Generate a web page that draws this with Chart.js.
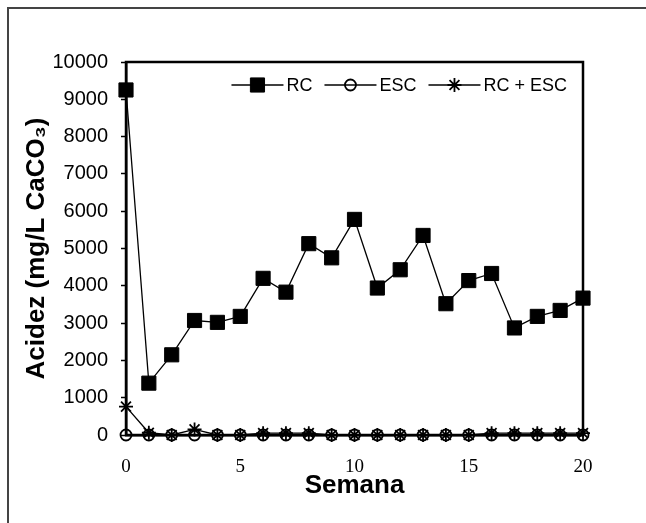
<!DOCTYPE html>
<html>
<head>
<meta charset="utf-8">
<script src="https://cdn.jsdelivr.net/npm/chart.js"></script>
<style>
    html, body { margin: 0; padding: 0; background: #fff; }
    #wrap { position: relative; width: 646px; height: 523px; overflow: hidden; }
    #frame { position: absolute; left: 7px; top: 7px; right: -4px; bottom: -4px;
             border-top: 2px solid #444; border-left: 2px solid #444; }
</style>
</head>
<body>
<div id="wrap">
    <canvas id="myChart" width="646" height="523"></canvas>
    <div id="frame"></div>
</div>
<script>
// Weeks (x axis)
const semanas = [0, 1, 2, 3, 4, 5, 6, 7, 8, 9, 10, 11, 12, 13, 14, 15, 16, 17, 18, 19, 20];

// Acidity, mg/L CaCO3
const rc = [9250, 1390, 2150, 3070, 3020, 3180, 4200, 3830, 5130, 4750, 5780,
            3940, 4430, 5350, 3520, 4140, 4330, 2870, 3180, 3340, 3670];
const esc = [0, 0, 0, 0, 0, 0, 0, 0, 0, 0, 0, 0, 0, 0, 0, 0, 0, 0, 0, 0, 0];
const rcEsc = [760, 60, 0, 150, 0, 0, 50, 50, 50, 0, 0, 0, 0, 0, 0, 0, 50, 50, 50, 50, 50];

const seriesNames = ['RC', 'ESC', 'RC + ESC'];
const xTicks = [0, 5, 10, 15, 20];
const yTicks = [0, 1000, 2000, 3000, 4000, 5000, 6000, 7000, 8000, 9000, 10000];

function toPoints(values) {
    return semanas.map((s, i) => ({ x: s, y: values[i] }));
}

// box around the plot area (top and right sides)
const plotBox = {
    id: 'plotBox',
    beforeDatasetsDraw(chart) {
        const { ctx, chartArea } = chart;
        ctx.save();
        ctx.strokeStyle = '#000';
        ctx.lineWidth = 2.5;
        ctx.strokeRect(chartArea.left, chartArea.top,
            chartArea.right - chartArea.left, chartArea.bottom - chartArea.top);
        ctx.restore();
    }
};

// legend drawn inside the plot, line through marker
const inlineLegend = {
    id: 'inlineLegend',
    afterDraw(chart) {
        const { ctx, chartArea } = chart;
        const symW = 52, gap = 3, itemGap = 12;
        ctx.save();
        ctx.font = '18px "Liberation Sans", Arial, sans-serif';
        const items = chart.data.datasets.map(ds => ({
            ds: ds,
            w: symW + gap + ctx.measureText(ds.label).width
        }));
        const total = items.reduce((a, it) => a + it.w, 0) + itemGap * (items.length - 1);
        let x = chartArea.right - 16 - total;
        const y = chartArea.top + 23;
        items.forEach(it => {
            const ds = it.ds;
            ctx.strokeStyle = '#000';
            ctx.lineWidth = 1.3;
            ctx.beginPath();
            ctx.moveTo(x, y);
            ctx.lineTo(x + symW, y);
            ctx.stroke();
            ctx.fillStyle = ds.pointBackgroundColor;
            ctx.strokeStyle = ds.pointBorderColor;
            ctx.lineWidth = ds.pointBorderWidth;
            Chart.helpers.drawPoint(ctx, {
                pointStyle: ds.pointStyle,
                radius: ds.pointRadius,
                borderWidth: ds.pointBorderWidth,
                rotation: 0
            }, x + symW / 2, y);
            ctx.fillStyle = '#000';
            ctx.textAlign = 'left';
            ctx.textBaseline = 'middle';
            ctx.fillText(ds.label, x + symW + gap, y + 1);
            x += it.w + itemGap;
        });
        ctx.restore();
    }
};

const ctx = document.getElementById('myChart');

new Chart(ctx, {
    type: 'line',
    data: {
        datasets: [{
            label: seriesNames[0],
            data: toPoints(rc),
            borderColor: '#000',
            borderWidth: 1.3,
            pointStyle: 'rect',
            pointRadius: 10,
            pointBackgroundColor: '#000',
            pointBorderColor: '#000',
            pointBorderWidth: 1,
            tension: 0,
            clip: false
        }, {
            label: seriesNames[1],
            data: toPoints(esc),
            borderColor: '#000',
            borderWidth: 1.5,
            pointStyle: 'circle',
            pointRadius: 5.5,
            pointBackgroundColor: 'rgba(0,0,0,0)',
            pointBorderColor: '#000',
            pointBorderWidth: 1.8,
            tension: 0,
            clip: false
        }, {
            label: seriesNames[2],
            data: toPoints(rcEsc),
            borderColor: '#000',
            borderWidth: 1.3,
            pointStyle: 'star',
            pointRadius: 7,
            pointBackgroundColor: '#000',
            pointBorderColor: '#000',
            pointBorderWidth: 1.8,
            tension: 0,
            clip: false
        }]
    },
    options: {
        responsive: false,
        animation: false,
        layout: {
            padding: { top: 62, right: 63, left: 0, bottom: 0 }
        },
        scales: {
            x: {
                type: 'linear',
                min: 0,
                max: 20,
                afterFit: scale => { scale.height = 88; },
                afterBuildTicks: scale => { scale.ticks = xTicks.map(v => ({ value: v })); },
                grid: { drawOnChartArea: false, drawTicks: false },
                border: { display: true, color: '#000', width: 2.5 },
                ticks: {
                    color: '#000',
                    padding: 21,
                    callback: v => String(v),
                    font: { family: '"Liberation Serif", "Times New Roman", serif', size: 19 }
                },
                title: {
                    display: true,
                    text: 'Semana',
                    color: '#000',
                    padding: { top: 0, bottom: 22 },
                    font: { family: '"Liberation Sans", Arial, sans-serif', size: 26, weight: 'bold' }
                }
            },
            y: {
                min: 0,
                max: 10000,
                afterFit: scale => { scale.width = 126; },
                afterBuildTicks: scale => { scale.ticks = yTicks.map(v => ({ value: v })); },
                grid: { drawOnChartArea: false, drawTicks: true, tickLength: 5, color: '#000', tickWidth: 1.5 },
                border: { display: true, color: '#000', width: 2.5 },
                ticks: {
                    color: '#000',
                    padding: 13,
                    callback: v => String(v),
                    font: { family: '"Liberation Sans", Arial, sans-serif', size: 20 }
                },
                title: {
                    display: true,
                    text: 'Acidez (mg/L CaCO₃)',
                    color: '#000',
                    padding: { top: 21, bottom: 0 },
                    font: { family: '"Liberation Sans", Arial, sans-serif', size: 26, weight: 'bold' }
                }
            }
        },
        plugins: {
            legend: { display: false },
            tooltip: { enabled: false }
        }
    },
    plugins: [plotBox, inlineLegend]
});
</script>
</body>
</html>
